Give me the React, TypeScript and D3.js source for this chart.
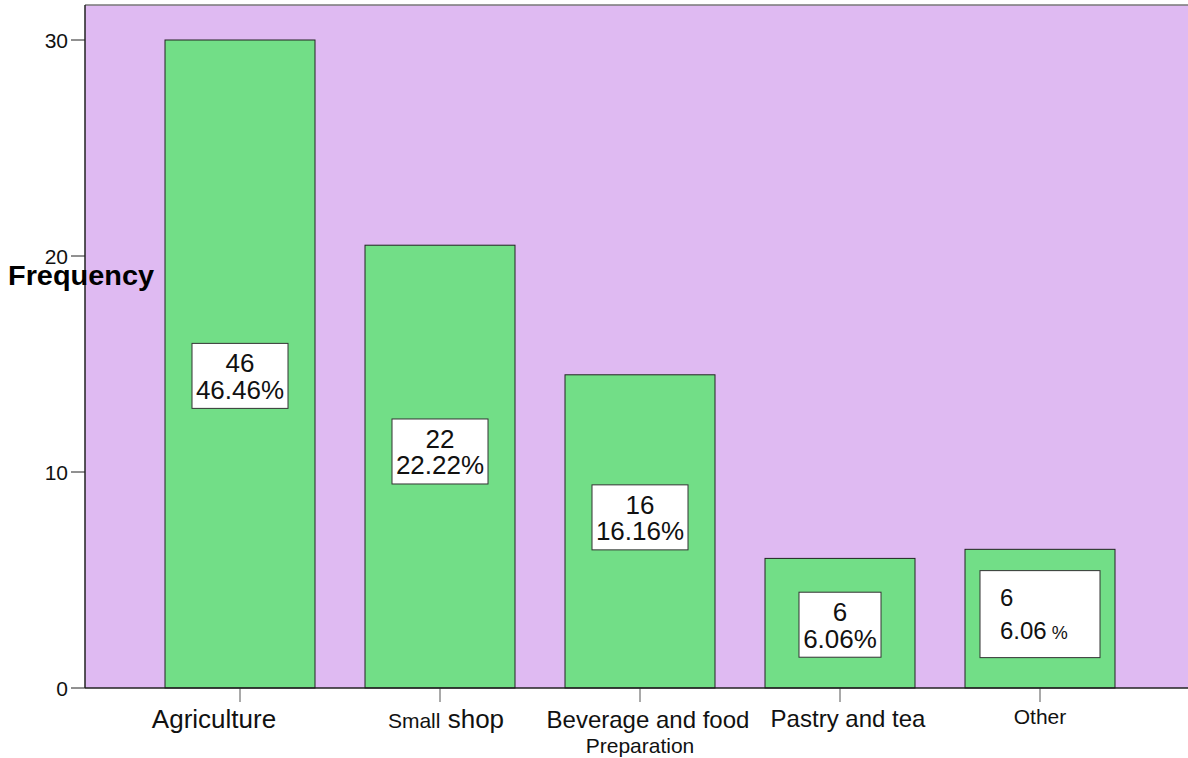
import React from "react";
import * as d3 from "d3";

const categories = ["Agriculture", "Small shop", "Beverage and food", "Pastry and tea", "Other"];
const barValues = [30, 20.5, 14.5, 6.0, 6.42];
const countLabels = ["46", "22", "16", "6", "6"];
const pctLabels = ["46.46%", "22.22%", "16.16%", "6.06%", "6.06"];
const labelMid = [14.45, 10.95, 7.9, 2.93, 3.42];
const yTicks = [0, 10, 20, 30];

const W = 1188;
const H = 758;
const FONT = "'Liberation Sans', Arial, Helvetica, sans-serif";

export default function App() {
  const x = d3.scaleBand<string>().domain(categories).range([140, 1140]).paddingInner(0.25).paddingOuter(0.125);
  const y = d3.scaleLinear().domain([0, 30]).range([688, 40]);
  const plotLeft = 85;
  const plotTop = 5;
  const plotBottom = y(0);
  const cxOf = (i: number) => x(categories[i])! + x.bandwidth() / 2;

  return (
    <svg width={W} height={H} style={{ position: "absolute", left: 0, top: 0, background: "#fff" }} fontFamily={FONT}>
      <rect x={plotLeft} y={plotTop} width={W - plotLeft + 2} height={plotBottom - plotTop} fill="#DFBAF2" />
      <line x1={plotLeft} x2={W} y1={plotTop} y2={plotTop} stroke="#777" strokeWidth={1.5} />
      {categories.map((c, i) => {
        const bx = x(c)!;
        const bw = x.bandwidth();
        const top = y(barValues[i]);
        const cx = bx + bw / 2;
        const mid = y(labelMid[i]);
        const isOther = i === 4;
        const boxW = isOther ? 120 : i === 3 ? 82 : 96;
        const boxH = isOther ? 87 : 65;
        const boxTop = mid - boxH / 2;
        return (
          <g key={c}>
            <rect x={bx} y={top} width={bw} height={plotBottom - top} fill="#72DE87" stroke="#222" strokeWidth={1} />
            <rect x={cx - boxW / 2} y={boxTop} width={boxW} height={boxH} fill="#fff" stroke="#333" strokeWidth={1} />
            {isOther ? (
              <g fontSize={24} fill="#111">
                <text x={cx - boxW / 2 + 20} y={boxTop + 35}>{countLabels[i]}</text>
                <text x={cx - boxW / 2 + 20} y={boxTop + 68}>
                  {pctLabels[i]}
                  <tspan fontSize={18} dx={5}>%</tspan>
                </text>
              </g>
            ) : (
              <g fontSize={26} fill="#111" textAnchor="middle">
                <text x={cx} y={boxTop + 29}>{countLabels[i]}</text>
                <text x={cx} y={boxTop + 55.5}>{pctLabels[i]}</text>
              </g>
            )}
            <line x1={cx} x2={cx} y1={plotBottom} y2={plotBottom + 14} stroke="#555" strokeWidth={1} />
          </g>
        );
      })}
      <line x1={plotLeft} x2={plotLeft} y1={plotTop} y2={plotBottom} stroke="#222" strokeWidth={1.5} />
      <line x1={plotLeft} x2={W} y1={plotBottom} y2={plotBottom} stroke="#222" strokeWidth={1.5} />
      {yTicks.map((t) => (
        <g key={t}>
          <line x1={plotLeft - 14} x2={plotLeft} y1={y(t)} y2={y(t)} stroke="#222" strokeWidth={1} />
          <text x={plotLeft - 17} y={y(t) + 8} textAnchor="end" fontSize={21} fill="#111">{t}</text>
        </g>
      ))}
      <text x={8} y={285} fontSize={27} fontWeight="bold" fill="#000" textLength={146} lengthAdjust="spacingAndGlyphs">Frequency</text>
      <g fill="#111">
        <text x={cxOf(0) - 26} y={728} textAnchor="middle" fontSize={26}>{categories[0]}</text>
        <text x={cxOf(1) + 6} y={728} textAnchor="middle">
          <tspan fontSize={21}>Small</tspan>
          <tspan fontSize={26}> shop</tspan>
        </text>
        <text x={cxOf(2) + 8} y={728} textAnchor="middle" fontSize={24}>{categories[2]}</text>
        <text x={cxOf(2)} y={753} textAnchor="middle" fontSize={21}>Preparation</text>
        <text x={cxOf(3) + 8} y={727} textAnchor="middle" fontSize={24}>{categories[3]}</text>
        <text x={cxOf(4)} y={724} textAnchor="middle" fontSize={21}>{categories[4]}</text>
      </g>
    </svg>
  );
}
